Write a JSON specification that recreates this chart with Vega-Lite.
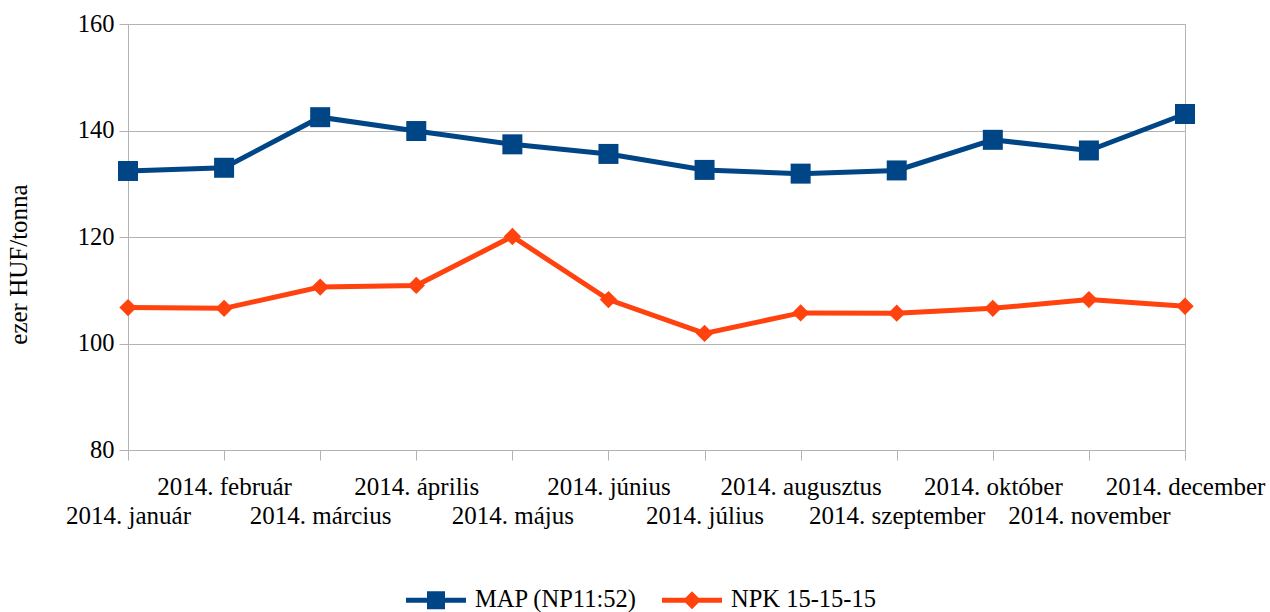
{
  "$schema": "https://vega.github.io/schema/vega-lite/v6.json",
  "width": 1057,
  "height": 426,
  "autosize": {"type": "none"},
  "padding": {"left": 128, "top": 24, "right": 85, "bottom": 162},
  "background": "white",
  "config": {
    "font": "Liberation Serif",
    "view": {"stroke": "#b3b3b3", "strokeWidth": 1}
  },
  "data": {
    "values": [
      {"month": "2014. január", "series": "MAP (NP11:52)", "value": 132.4},
      {"month": "2014. február", "series": "MAP (NP11:52)", "value": 133.0},
      {"month": "2014. március", "series": "MAP (NP11:52)", "value": 142.5},
      {"month": "2014. április", "series": "MAP (NP11:52)", "value": 139.9},
      {"month": "2014. május", "series": "MAP (NP11:52)", "value": 137.4},
      {"month": "2014. június", "series": "MAP (NP11:52)", "value": 135.6},
      {"month": "2014. július", "series": "MAP (NP11:52)", "value": 132.6},
      {"month": "2014. augusztus", "series": "MAP (NP11:52)", "value": 131.9},
      {"month": "2014. szeptember", "series": "MAP (NP11:52)", "value": 132.5},
      {"month": "2014. október", "series": "MAP (NP11:52)", "value": 138.25},
      {"month": "2014. november", "series": "MAP (NP11:52)", "value": 136.25},
      {"month": "2014. december", "series": "MAP (NP11:52)", "value": 143.1},
      {"month": "2014. január", "series": "NPK 15-15-15", "value": 106.75},
      {"month": "2014. február", "series": "NPK 15-15-15", "value": 106.6},
      {"month": "2014. március", "series": "NPK 15-15-15", "value": 110.6},
      {"month": "2014. április", "series": "NPK 15-15-15", "value": 110.9},
      {"month": "2014. május", "series": "NPK 15-15-15", "value": 120.1},
      {"month": "2014. június", "series": "NPK 15-15-15", "value": 108.25},
      {"month": "2014. július", "series": "NPK 15-15-15", "value": 101.9},
      {"month": "2014. augusztus", "series": "NPK 15-15-15", "value": 105.75},
      {"month": "2014. szeptember", "series": "NPK 15-15-15", "value": 105.7},
      {"month": "2014. október", "series": "NPK 15-15-15", "value": 106.6},
      {"month": "2014. november", "series": "NPK 15-15-15", "value": 108.25},
      {"month": "2014. december", "series": "NPK 15-15-15", "value": 107.0}
    ]
  },
  "encoding": {
    "x": {
      "field": "month",
      "type": "ordinal",
      "sort": null,
      "scale": {"type": "point", "padding": 0},
      "axis": {
        "title": null,
        "labelAngle": 0,
        "labelFont": "Liberation Serif",
        "labelFontSize": 25,
        "labelColor": "#000000",
        "labelOverlap": false,
        "labelLimit": 400,
        "labelBaseline": "top",
        "labelLineHeight": 29,
        "labelPadding": 14,
        "labelExpr": "indexof(['2014. január','2014. március','2014. május','2014. július','2014. szeptember','2014. november'], datum.value) >= 0 ? ['', datum.label] : datum.label",
        "domainColor": "#b3b3b3",
        "tickColor": "#b3b3b3",
        "tickSize": 10,
        "grid": false
      }
    },
    "y": {
      "field": "value",
      "type": "quantitative",
      "scale": {"domain": [80, 160], "nice": false, "zero": false},
      "axis": {
        "values": [80, 100, 120, 140, 160],
        "title": "ezer HUF/tonna",
        "titleFont": "Liberation Serif",
        "titleFontSize": 25,
        "titleFontWeight": "normal",
        "titleColor": "#000000",
        "titleX": -110,
        "titleY": 240,
        "titleBaseline": "middle",
        "titleAlign": "center",
        "labelFont": "Liberation Serif",
        "labelFontSize": 24.5,
        "labelColor": "#000000",
        "labelPadding": 5,
        "domainColor": "#b3b3b3",
        "tickColor": "#b3b3b3",
        "tickSize": 9,
        "gridColor": "#b3b3b3",
        "gridOpacity": 1
      }
    },
    "color": {
      "field": "series",
      "type": "nominal",
      "scale": {"domain": ["MAP (NP11:52)", "NPK 15-15-15"], "range": ["#004586", "#ff420e"]},
      "legend": {
        "title": null,
        "orient": "none",
        "direction": "horizontal",
        "legendX": 278,
        "legendY": 546,
        "symbolSize": 3600,
        "labelFont": "Liberation Serif",
        "labelFontSize": 24.5,
        "labelColor": "#000000",
        "labelLimit": 400,
        "labelOffset": 9,
        "columnPadding": 25,
        "encode": {
          "symbols": {
            "update": {
              "shape": {"signal": "datum.value == 'MAP (NP11:52)' ? 'M-1,-0.083H1V0.083H-1Z M-0.3,-0.3H0.3V0.3H-0.3Z' : 'M-1,-0.083H1V0.083H-1Z M0,-0.3L0.3,0L0,0.3L-0.3,0Z'"},
              "fill": {"signal": "datum.value == 'MAP (NP11:52)' ? '#004586' : '#ff420e'"},
              "stroke": {"value": "transparent"},
              "strokeWidth": {"value": 0},
              "opacity": {"value": 1}
            }
          }
        }
      }
    }
  },
  "layer": [
    {"mark": {"type": "line", "strokeWidth": 5}},
    {
      "transform": [{"filter": "datum.series == 'MAP (NP11:52)'"}],
      "mark": {"type": "point", "shape": "square", "filled": true, "size": 400, "opacity": 1}
    },
    {
      "transform": [{"filter": "datum.series == 'NPK 15-15-15'"}],
      "mark": {"type": "point", "shape": "diamond", "filled": true, "size": 300, "opacity": 1}
    }
  ]
}
